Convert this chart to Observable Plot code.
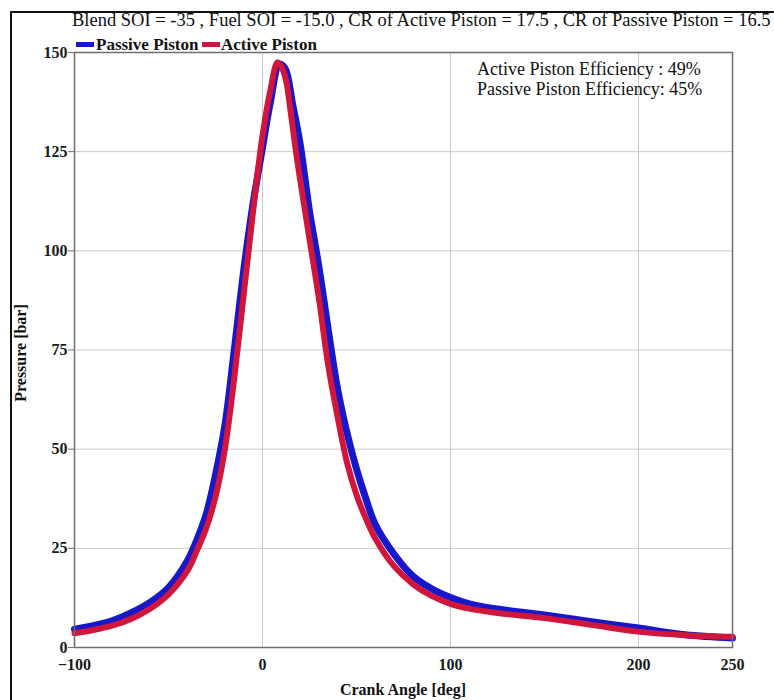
<!DOCTYPE html>
<html><head><meta charset="utf-8">
<script src="https://cdn.jsdelivr.net/npm/d3@7"></script>
<script src="https://cdn.jsdelivr.net/npm/@observablehq/plot@0.6"></script>
<style>
html,body{margin:0;padding:0;overflow:hidden;background:#fff;width:774px;height:700px}
#wrap{position:relative;width:774px;height:700px;font-family:"Liberation Serif","Times New Roman",serif;color:#111}
#wrap svg{position:absolute;left:0;top:0}
.abs{position:absolute;white-space:nowrap;line-height:1}
#outer{position:absolute;left:10px;top:11px;width:800px;height:720px;border-left:2px solid #111;border-top:2px solid #111}
</style></head><body><div id="wrap"><div id="outer"></div></div>
<script>
// Data
const activeAngle = [-100,-90,-80,-70,-60,-50,-40,-35,-30,-25,-20,-15,-10,-5,0,4,8,10,12.5,15,17.5,20,25,30,35,40,45,50,55,60,70,80,90,100,110,125,150,175,200,225,250];
const activePressure = [3.6,4.4,5.5,7.2,9.7,13.4,19.3,24.3,30,38,50,68,89,110,129,140,147.5,146.5,143,135,126,118,103,88,71,58,46.5,38.5,32.5,27.5,20.5,16,13,11,9.8,8.7,7.4,5.7,4.0,3.1,2.7];
const passiveAngle = [-100,-90,-80,-70,-60,-50,-40,-35,-30,-25,-20,-15,-10,-5,0,4,9,12,16,20,25,30,35,40,45,50,55,60,70,80,90,100,110,125,150,175,200,225,250];
const passivePressure = [4.6,5.5,6.7,8.7,11.3,15.1,21.8,27,33.5,43.5,56,75,95,112,126,137,147,146,137,127,110,96,80,65,54,45,37.5,31,23.5,18,14.8,12.6,11,9.7,8.2,6.5,4.9,3.2,2.4];
const xTicks = [-100,0,100,200,250];
const xGrid = [0,100,200];
const yTicks = [0,25,50,75,100,125,150];
const yGrid = [25,50,75,100,125];
const seriesNames = ["Passive Piston","Active Piston"];
const seriesColors = ["#1717cc","#d0163a"];
const titleText = "Blend SOI = -35 , Fuel SOI = -15.0 , CR of Active Piston = 17.5 , CR of Passive Piston = 16.5";
const notes = ["Active Piston Efficiency : 49%","Passive Piston Efficiency: 45%"];
const xLabel = "Crank Angle [deg]";
const yLabel = "Pressure [bar]";

const active = activeAngle.map((a,i)=>({angle:a, pressure:activePressure[i]}));
const passive = passiveAngle.map((a,i)=>({angle:a, pressure:passivePressure[i]}));

const chart = Plot.plot({
  width: 774, height: 700,
  marginLeft: 74, marginRight: 42, marginTop: 52, marginBottom: 53,
  x: {domain: [-100, 250]},
  y: {domain: [0, 150]},
  style: {fontFamily: '"Liberation Serif","Times New Roman",serif', fontSize: "16px", background: "transparent", overflow: "visible"},
  marks: [
    Plot.gridX(xGrid, {stroke: "#c9c9c9", strokeOpacity: 1, strokeWidth: 1}),
    Plot.gridY(yGrid, {stroke: "#c9c9c9", strokeOpacity: 1, strokeWidth: 1}),
    Plot.line(passive, {x: "angle", y: "pressure", stroke: seriesColors[0], strokeWidth: 7, curve: "catmull-rom"}),
    Plot.line(active, {x: "angle", y: "pressure", stroke: seriesColors[1], strokeWidth: 6, curve: "catmull-rom"}),
    Plot.frame({stroke: "#6e6e6e", strokeWidth: 1.5}),
    Plot.axisY(yTicks, {tickSize: 6, tickPadding: 1, stroke: "#6e6e6e", fill: "#1a1a1a", fontWeight: "bold", fontSize: 16, label: null}),
    Plot.axisX(xTicks, {tickSize: 0, tickPadding: 11, fill: "#1a1a1a", fontWeight: "bold", fontSize: 16, label: null})
  ]
});
const wrap = document.getElementById("wrap");
wrap.appendChild(chart);

function addText(txt, css){
  const d = document.createElement("div");
  d.className = "abs";
  d.textContent = txt;
  Object.assign(d.style, css);
  wrap.appendChild(d);
  return d;
}
addText(titleText, {left:"72px", top:"11px", fontSize:"18.5px"});
// legend
function swatch(left, color){
  const s = document.createElement("div");
  Object.assign(s.style, {position:"absolute", left:left+"px", top:"42px", width:"18px", height:"5px", background:color});
  wrap.appendChild(s);
}
swatch(76, seriesColors[0]);
addText(seriesNames[0], {left:"96px", top:"36px", fontSize:"17px", fontWeight:"bold"});
swatch(202, seriesColors[1]);
addText(seriesNames[1], {left:"221px", top:"36px", fontSize:"17px", fontWeight:"bold"});
addText(notes[0], {left:"477px", top:"60px", fontSize:"18px"});
addText(notes[1], {left:"477px", top:"80px", fontSize:"18px"});
addText(xLabel, {left:"403px", top:"682px", fontSize:"16px", fontWeight:"bold", transform:"translateX(-50%)"});
addText(yLabel, {left:"21px", top:"353px", fontSize:"16px", fontWeight:"bold", transform:"translate(-50%,-50%) rotate(-90deg)"});
</script>
</body></html>
